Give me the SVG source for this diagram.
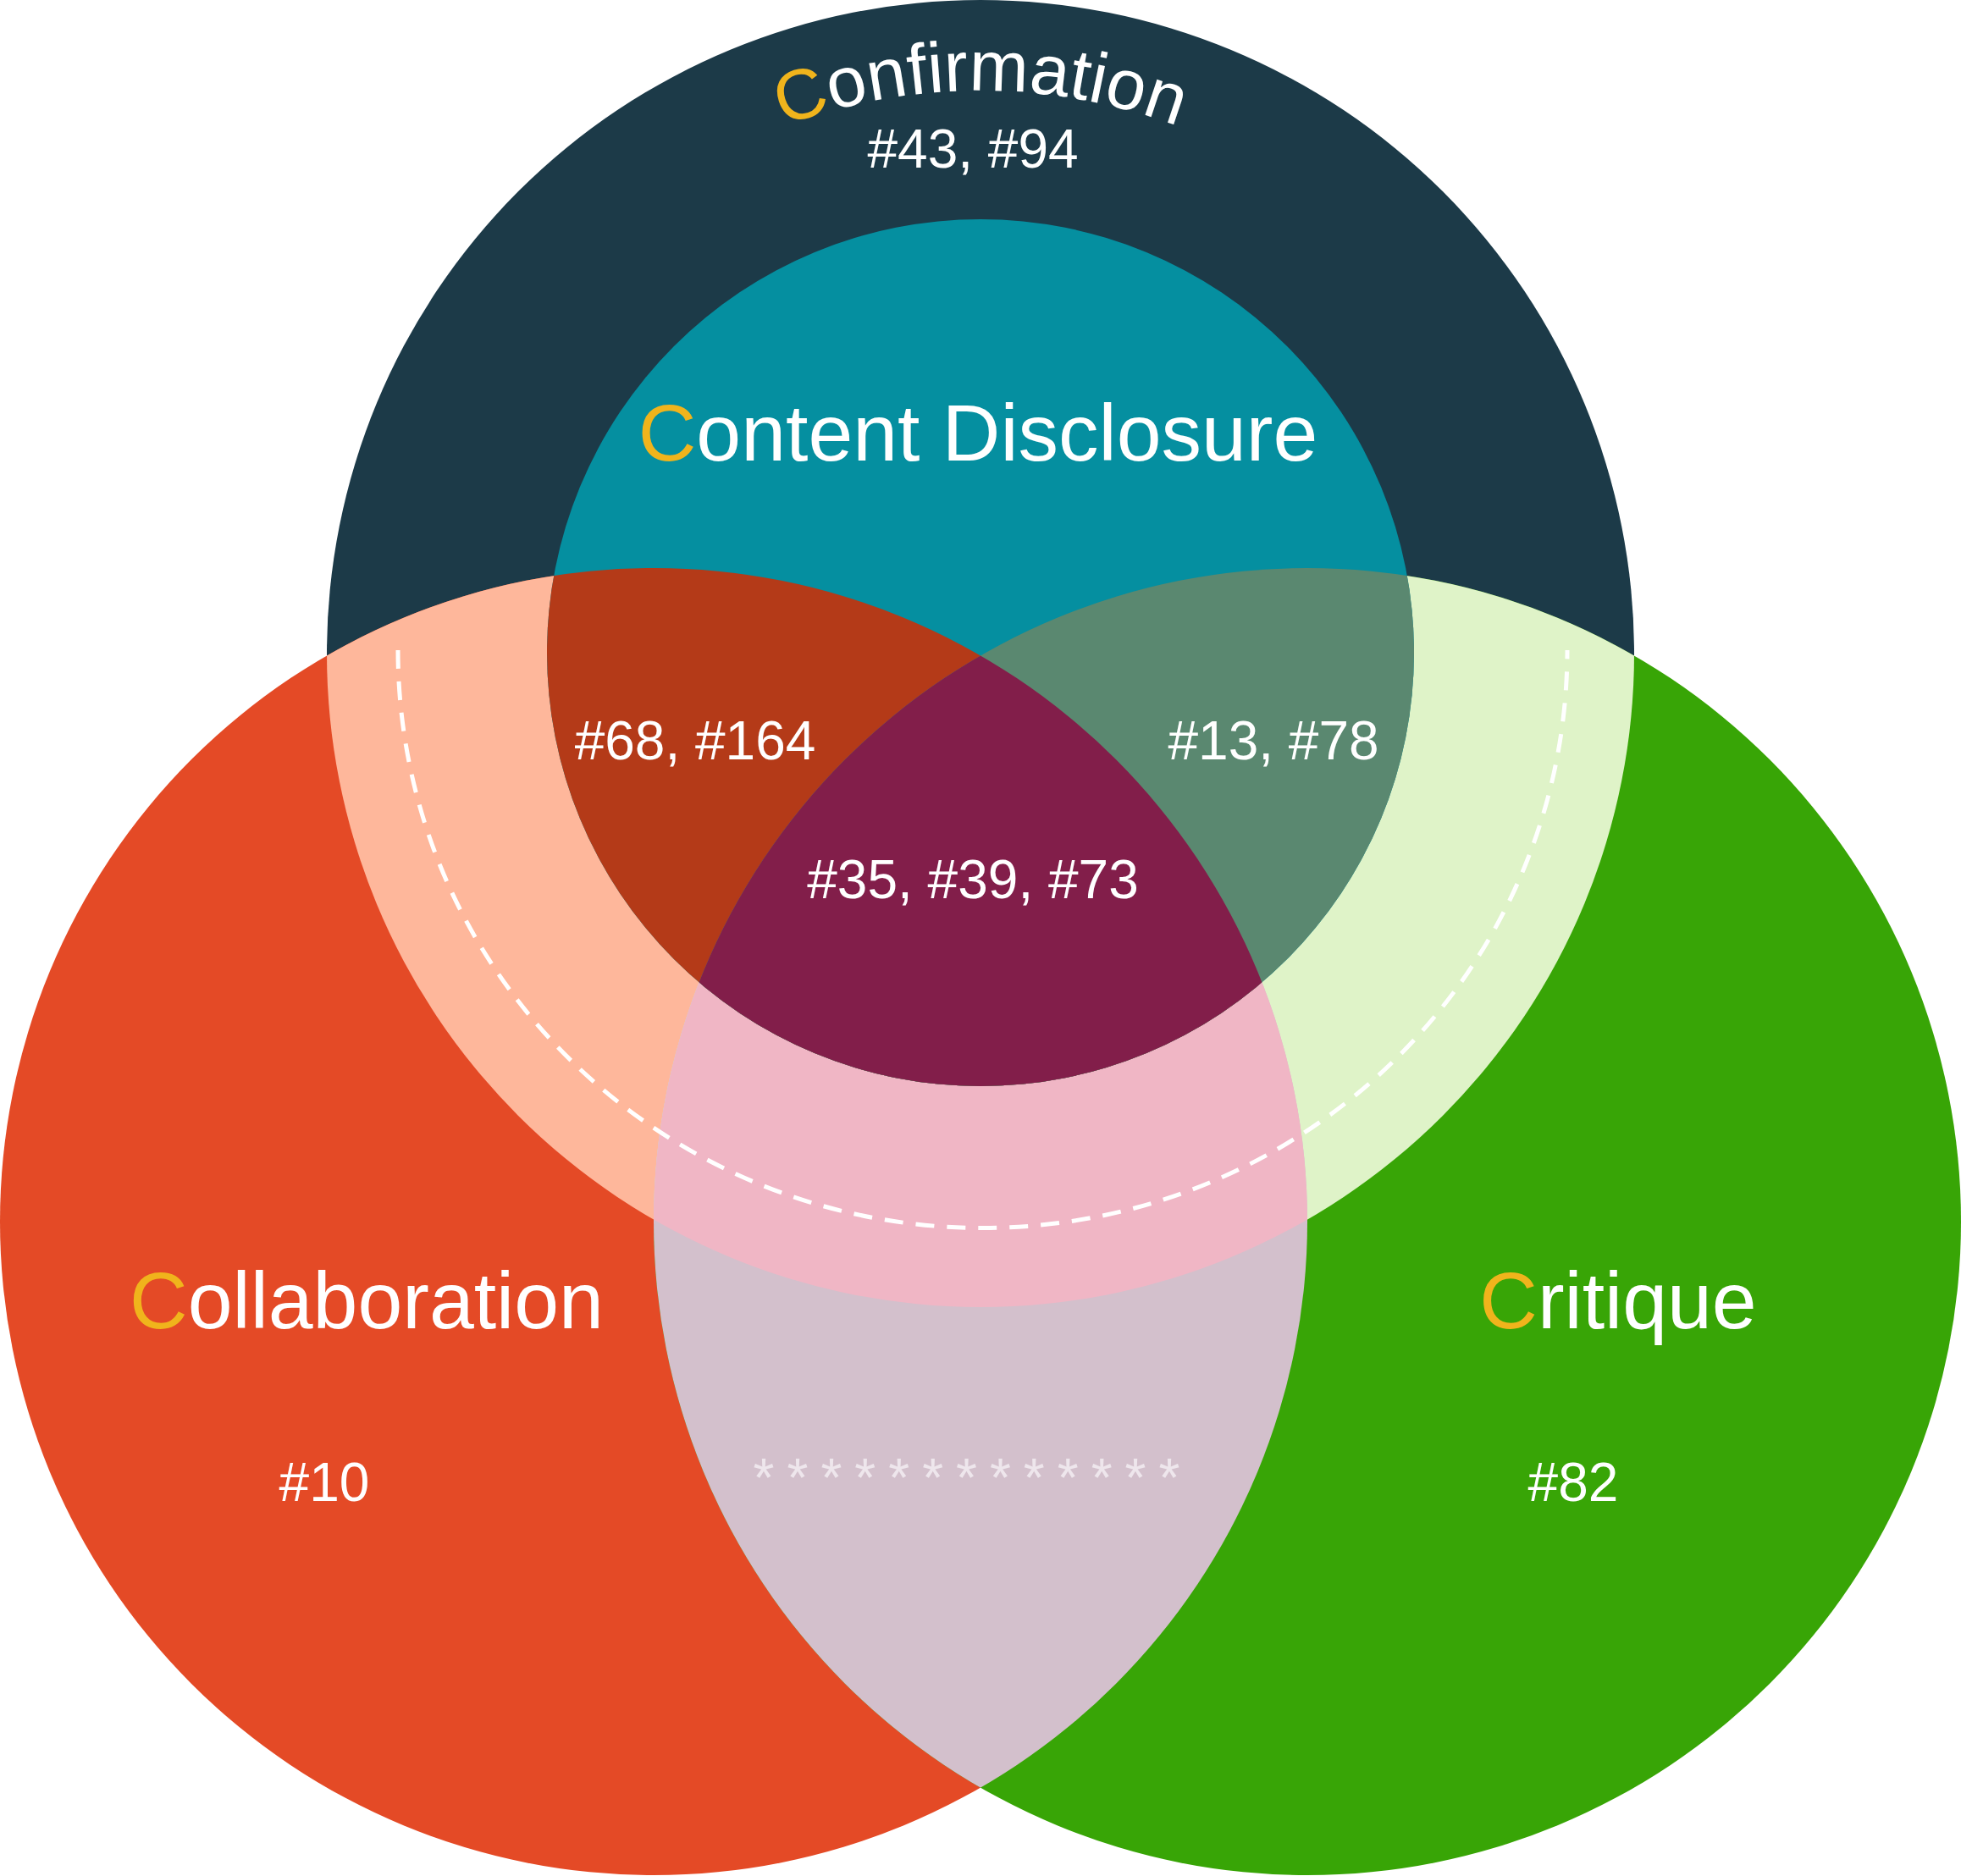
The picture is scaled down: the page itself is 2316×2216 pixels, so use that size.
<svg xmlns="http://www.w3.org/2000/svg" width="2316" height="2216" viewBox="0 0 2316 2216">
<style>
text{font-family:"Liberation Sans",Arial,sans-serif;fill:#fff;text-anchor:middle}
.big{font-size:95px}
.num{font-size:64px}
.c{fill:#f0b41c}
</style>
<defs>
<circle id="T" cx="1158" cy="772" r="772"/>
<circle id="L" cx="772" cy="1443" r="772"/>
<circle id="R" cx="1544" cy="1443" r="772"/>
<circle id="D" cx="1158" cy="771" r="512"/>
<clipPath id="cT"><use href="#T"/></clipPath>
<clipPath id="cL"><use href="#L"/></clipPath>
<clipPath id="cR"><use href="#R"/></clipPath>
<clipPath id="cD"><use href="#D"/></clipPath>
<path id="arc" d="M 493 772 A 665 665 0 0 1 1823 772" fill="none"/>
</defs>
<g id="confirmation">
<use href="#T" fill="#1c3a48"/>
</g>
<g id="collaboration">
<use href="#L" fill="#e44a26"/>
</g>
<g id="critique">
<use href="#R" fill="#38a506"/>
</g>
<g id="overlaps">
<use href="#L" clip-path="url(#cT)" fill="#feb79b"/>
<use href="#R" clip-path="url(#cT)" fill="#dff3c8"/>
<use href="#L" clip-path="url(#cR)" fill="#d3c0cc"/>
<g clip-path="url(#cT)"><use href="#L" clip-path="url(#cR)" fill="#f0b6c5"/></g>
</g>
<g id="content-disclosure">
<use href="#D" fill="#058fa0"/>
<use href="#L" clip-path="url(#cD)" fill="#b43a18"/>
<use href="#R" clip-path="url(#cD)" fill="#5a8870"/>
<g clip-path="url(#cD)"><use href="#L" clip-path="url(#cR)" fill="#821e4a"/></g>
</g>
<g id="connectors">
<path d="M 470 768 A 688 680 0 0 0 1851 768" fill="none" stroke="#fff" stroke-width="5" stroke-dasharray="22 15"/>
</g>
<g id="labels">
<text style="font-size:84px"><textPath href="#arc" startOffset="50%"><tspan class="c">C</tspan>onfirmation</textPath></text>
<text class="num" x="1149" y="198">#43, #94</text>
<text class="big" x="1155" y="544"><tspan class="c">C</tspan>ontent Disclosure</text>
<text class="num" x="821" y="897">#68, #164</text>
<text class="num" x="1504" y="897">#13, #78</text>
<text class="num" x="1149" y="1061">#35, #39, #73</text>
<text class="big" x="433" y="1569"><tspan class="c">C</tspan>ollaboration</text>
<text class="big" x="1911" y="1569"><tspan class="c">C</tspan>ritique</text>
<text class="num" x="383" y="1773">#10</text>
<text class="num" x="1858" y="1773">#82</text>
<text class="num" x="1149" y="1768" style="fill:#eee6ec;letter-spacing:15px">*************</text>
</g>
</svg>
